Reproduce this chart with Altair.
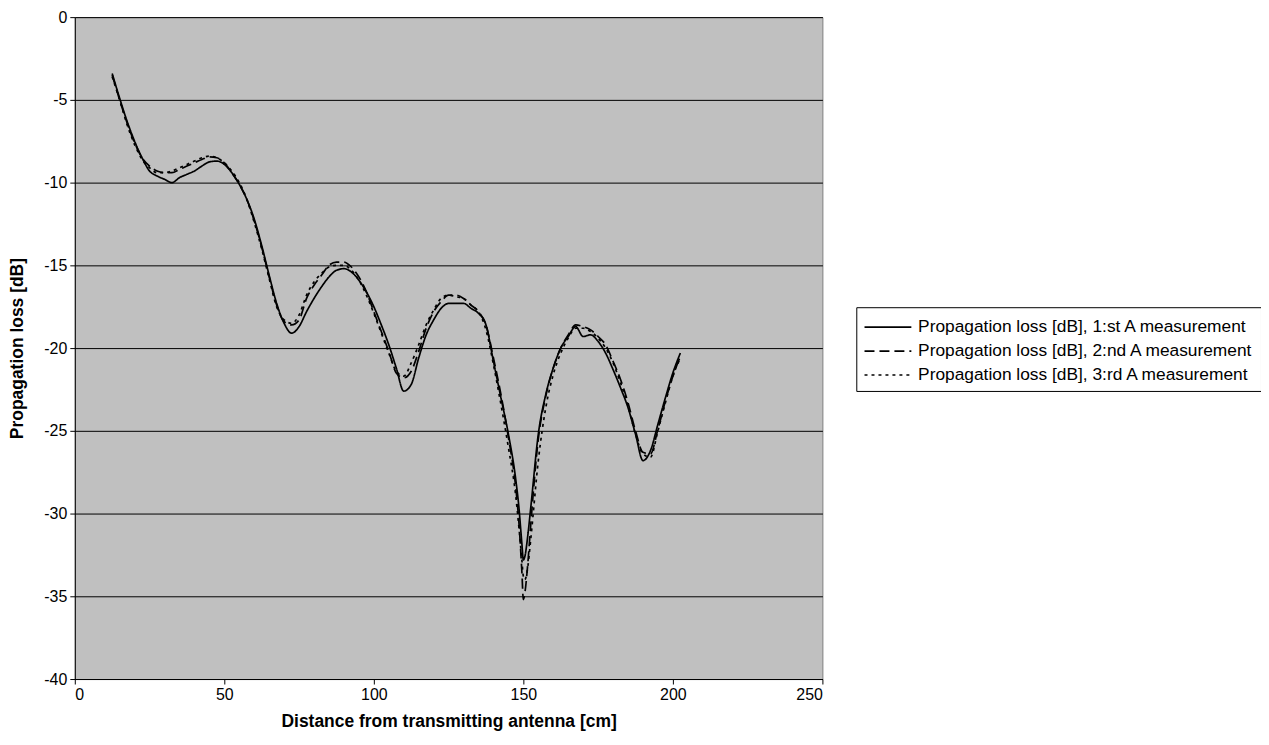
import altair as alt
import pandas as pd

distance_cm = [12.5, 15, 17.5, 20, 22.5, 25, 27.5, 30, 32.5, 35, 37.5, 40, 42.5, 45, 47.5,
               50, 52.5, 55, 57.5, 60, 62.5, 65, 67.5, 70, 72.5, 75, 77.5, 80, 82.5, 85,
               87.5, 90, 92.5, 95, 97.5, 100, 102.5, 105, 107.5, 110, 112.5, 115, 117.5,
               120, 122.5, 125, 127.5, 130, 132.5, 135, 137.5, 140, 142.5, 145, 147.5,
               148.5, 149.5, 150, 150.5, 151.5, 152.5, 155, 157.5, 160, 162.5, 165, 167.5,
               170, 172.5, 175, 177.5, 180, 182.5, 185, 187.5, 190, 192.5, 195, 197.5,
               200, 202.5]

loss_1st = [-3.4, -4.9, -6.3, -7.5, -8.5, -9.3, -9.6, -9.8, -10.0, -9.7, -9.5, -9.3, -9.0,
            -8.75, -8.7, -8.9, -9.4, -10.1, -11.0, -12.2, -13.8, -15.6, -17.3, -18.5, -19.1,
            -18.7, -17.8, -17.0, -16.3, -15.7, -15.3, -15.2, -15.4, -15.9, -16.6, -17.5,
            -18.6, -19.8, -21.2, -22.6, -22.2, -20.6, -19.2, -18.3, -17.6, -17.3, -17.3,
            -17.3, -17.6, -17.9, -18.6, -20.8, -23.0, -25.2, -28.0, -29.6, -31.8, -32.8,
            -32.6, -31.3, -29.6, -25.2, -22.8, -21.2, -20.0, -19.3, -18.7, -19.3, -19.2,
            -19.6, -20.3, -21.3, -22.4, -23.6, -25.2, -26.8, -26.2, -24.6, -23.0, -21.5, -20.3]

loss_2nd = [-3.5, -5.0, -6.4, -7.6, -8.5, -9.0, -9.3, -9.4, -9.4, -9.2, -9.0, -8.8, -8.6,
            -8.45, -8.5, -8.8, -9.4, -10.1, -11.0, -12.3, -13.9, -15.7, -17.4, -18.4, -18.6,
            -18.3, -17.0, -16.2, -15.6, -15.0, -14.8, -14.8, -15.1, -15.7, -16.6, -17.8,
            -19.0, -20.2, -21.5, -21.8, -21.4, -20.2, -18.8, -17.8, -17.2, -16.8, -16.8,
            -17.0, -17.4, -17.8, -18.6, -20.6, -22.8, -25.4, -28.5, -30.5, -33.5, -35.2,
            -34.8, -33.0, -30.6, -25.5, -22.9, -21.2, -20.0, -19.2, -18.6, -18.7, -18.9,
            -19.3, -19.8, -20.8, -21.9, -23.3, -25.0, -26.3, -26.4, -24.9, -23.2, -21.7, -20.5]

loss_3rd = [-3.6, -5.0, -6.5, -7.7, -8.6, -9.1, -9.4, -9.4, -9.3, -9.1, -8.9, -8.7, -8.5,
            -8.4, -8.5, -8.8, -9.3, -10.0, -11.0, -12.4, -14.0, -15.8, -17.5, -18.3, -18.5,
            -18.0, -16.8, -16.0, -15.5, -15.1, -15.0, -15.0, -15.3, -15.9, -16.8, -17.9,
            -19.1, -20.3, -21.4, -21.7, -20.9, -19.8, -18.6, -17.7, -17.0, -16.8, -16.9,
            -17.0, -17.4, -17.8, -18.9, -21.0, -23.4, -26.0, -29.0, -30.8, -32.8, -33.8,
            -34.0, -33.2, -31.5, -26.8, -23.6, -21.6, -20.3, -19.4, -18.8, -18.8, -19.0,
            -19.4, -20.0, -20.9, -22.1, -23.5, -25.2, -26.4, -26.6, -25.0, -23.3, -21.7, -20.6]

series_names = [
    "Propagation loss [dB], 1:st A measurement",
    "Propagation loss [dB], 2:nd A measurement",
    "Propagation loss [dB], 3:rd A measurement",
]

rows = []
for name, vals in zip(series_names, [loss_1st, loss_2nd, loss_3rd]):
    for d, v in zip(distance_cm, vals):
        rows.append({"distance": d, "loss": v, "series": name})
df = pd.DataFrame(rows)

FONT = "Liberation Sans"

chart = alt.Chart(df).mark_line(
    interpolate="monotone", color="black", strokeWidth=1.7
).encode(
    x=alt.X("distance:Q",
            scale=alt.Scale(domain=[0, 250], nice=False),
            axis=alt.Axis(title="Distance from transmitting antenna [cm]",
                          values=[0, 50, 100, 150, 200, 250], grid=False,
                          titlePadding=10, labelExpr="'' + datum.value")),
    y=alt.Y("loss:Q",
            scale=alt.Scale(domain=[-40, 0], nice=False),
            axis=alt.Axis(title="Propagation loss [dB]",
                          values=[0, -5, -10, -15, -20, -25, -30, -35, -40],
                          grid=True, titleX=-48, labelExpr="'' + datum.value")),
    strokeDash=alt.StrokeDash(
        "series:N",
        scale=alt.Scale(domain=series_names, range=[[1, 0], [10, 5], [3, 4]]),
        legend=alt.Legend(title=None, orient="none", legendX=784, legendY=291,
                          symbolType="M-1,0H3", symbolSize=552,
                          symbolStrokeWidth=1.7, symbolStrokeColor="black",
                          symbolFillColor="transparent",
                          labelFontSize=17.4, labelFont=FONT, labelColor="black",
                          labelOffset=29, rowPadding=2, labelLimit=500,
                          strokeColor="black", padding=7, fillColor="white"),
    ),
    order=alt.Order("distance:Q"),
).properties(
    width=750, height=664,
    autosize=alt.AutoSizeParams(type="none"),
    padding={"left": 67, "top": 8, "right": 440, "bottom": 60},
).configure_view(
    fill="#C0C0C0", stroke="#808080", strokeWidth=1
).configure_axis(
    domainColor="black", tickColor="black", gridColor="black", gridWidth=1,
    labelFont=FONT, labelFontSize=16, labelColor="black",
    titleFont=FONT, titleFontSize=17.5, titleFontWeight="bold", titleColor="black",
    tickSize=5, labelPadding=3,
)

chart.save("out.html", embed_options={"renderer": "svg", "actions": False})
